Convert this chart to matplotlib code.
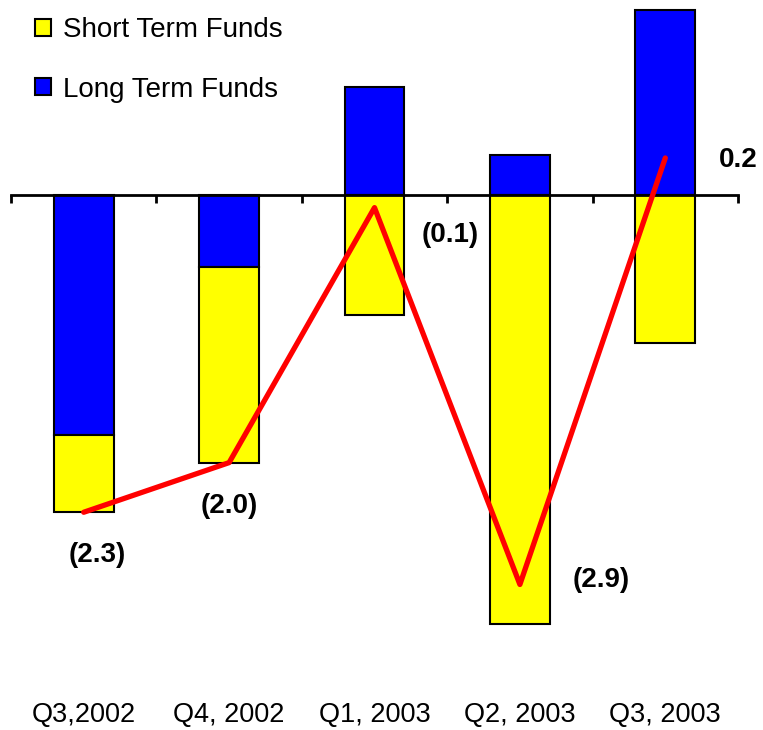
import matplotlib
matplotlib.use("Agg")
import matplotlib.pyplot as plt
import numpy as np
from matplotlib.patches import Patch

categories = ["Q3,2002", "Q4, 2002", "Q1, 2003", "Q2, 2003", "Q3, 2003"]
short_term = [-0.57, -1.44, -0.885, -3.16, -1.09]
long_term = [-1.765, -0.53, 0.79, 0.294, 1.36]
net_labels = ["(2.3)", "(2.0)", "(0.1)", "(2.9)", "0.2"]
net = [s + l for s, l in zip(short_term, long_term)]

plt.rcParams['font.family'] = ['Liberation Sans', 'DejaVu Sans']

fig = plt.figure(figsize=(7.63, 7.30), dpi=100)
ax = fig.add_axes([11/763, 0, 727/763, 1])
x = np.arange(len(categories))
w = 0.41

for i in range(len(categories)):
    s, l = short_term[i], long_term[i]
    ax.bar(x[i], l, w, color="#0000FF", edgecolor="black", linewidth=1.5, zorder=2)
    if np.sign(s) == np.sign(l):
        ax.bar(x[i], s, w, bottom=l, color="#FFFF00", edgecolor="black", linewidth=1.5, zorder=2)
    else:
        ax.bar(x[i], s, w, color="#FFFF00", edgecolor="black", linewidth=1.5, zorder=2)

ax.plot(x, net, color="#FF0000", linewidth=3.8, solid_capstyle="round", zorder=4)

ax.set_xlim(-0.5, len(categories) - 0.5)
zero_px = 194.7
scale = 136.0
ax.set_ylim(-(730 - zero_px) / scale, zero_px / scale)

for sp in ["top", "right", "left"]:
    ax.spines[sp].set_visible(False)
ax.spines["bottom"].set_position(("data", 0))
ax.spines["bottom"].set_linewidth(2)
ax.spines["bottom"].set_zorder(3)
ax.set_yticks([])
ax.set_xticks(np.arange(len(categories) + 1) - 0.5)
ax.set_xticklabels([])
ax.tick_params(axis="x", direction="out", length=6, width=2)

for i, c in enumerate(categories):
    ax.text(x[i], 15/730, c, transform=ax.get_xaxis_transform(), ha="center", va="center",
            fontsize=19.5)

label_offsets = [(0.09, -0.314), (0.0, -0.32), (0.52, -0.2), (0.56, 0.033), (0.5, -0.015)]
for i, lab in enumerate(net_labels):
    dx, dy = label_offsets[i]
    ax.text(x[i] + dx, net[i] + dy, lab, ha="center", va="center", fontsize=20, fontweight="bold")

handles = [Patch(facecolor="#FFFF00", edgecolor="black", linewidth=1.5),
           Patch(facecolor="#0000FF", edgecolor="black", linewidth=1.5)]
fig.legend(handles, ["Short Term Funds", "Long Term Funds"], loc="upper left",
           bbox_to_anchor=(35/763, 1 - 17/730), frameon=False, fontsize=20,
           handlelength=0.56, handleheight=0.56, handletextpad=0.45, labelspacing=1.21,
           borderaxespad=0, borderpad=0)

fig.savefig("out.png", dpi=100)
